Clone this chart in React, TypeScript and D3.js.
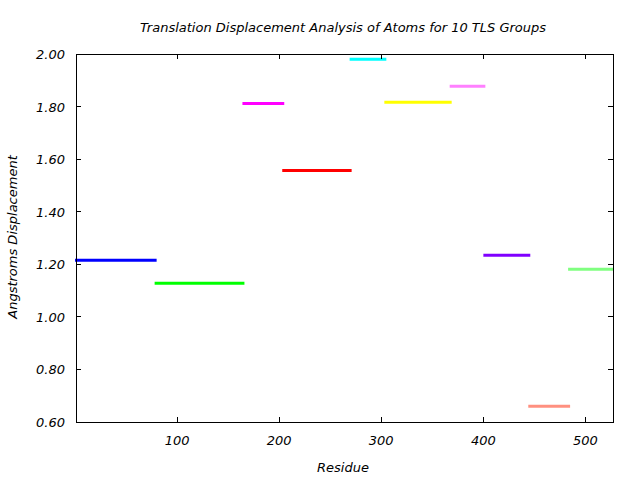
import React from "react";
import * as d3 from "d3";

const groupStarts = [1, 79, 165, 204, 270, 304, 368, 401, 445, 484];
const groupEnds = [79, 165, 204, 270, 304, 368, 401, 445, 484, 527];
const displacements = [1.215, 1.128, 1.812, 1.557, 1.98, 1.816, 1.877, 1.234, 0.66, 1.181];
const groupColors = ["#0000ff", "#00ff00", "#ff00ff", "#ff0000", "#00ffff", "#ffff00", "#ff80ff", "#8000ff", "#ff9080", "#80ff80"];
const xTicks = [100, 200, 300, 400, 500];
const yTicks = [0.6, 0.8, 1.0, 1.2, 1.4, 1.6, 1.8, 2.0];

const W = 640, H = 480;
const L = 76, R = 613, T = 54, B = 422;
const FONT = "'DejaVu Sans', sans-serif";
const FS = 13;

export default function App() {
  const x = d3.scaleLinear().domain([1, 527]).range([L, R]);
  const y = d3.scaleLinear().domain([0.6, 2.0]).range([B, T]);
  return (
    <svg width={W} height={H} style={{ position: "absolute", left: 0, top: 0, background: "#fff" }}>
      <rect x={0} y={0} width={W} height={H} fill="#fff" />
      <text x={343} y={32} textAnchor="middle" fontFamily={FONT} fontStyle="italic" fontSize={FS} fill="#000">
        Translation Displacement Analysis of Atoms for 10 TLS Groups
      </text>
      {groupStarts.map((s, i) => (
        <line key={i} x1={x(s) - 1} x2={x(groupEnds[i]) + 1} y1={y(displacements[i])} y2={y(displacements[i])}
          stroke={groupColors[i]} strokeWidth={3} />
      ))}
      <rect x={L} y={T} width={R - L} height={B - T} fill="none" stroke="#000" strokeWidth={1} shapeRendering="crispEdges" />
      {xTicks.map((t) => (
        <g key={"x" + t}>
          <line x1={x(t)} x2={x(t)} y1={B} y2={B - 5} stroke="#000" shapeRendering="crispEdges" />
          <line x1={x(t)} x2={x(t)} y1={T} y2={T + 5} stroke="#000" shapeRendering="crispEdges" />
          <text x={x(t)} y={445} textAnchor="middle" fontFamily={FONT} fontStyle="italic" fontSize={FS} fill="#000">{t}</text>
        </g>
      ))}
      {yTicks.map((t) => (
        <g key={"y" + t}>
          <line x1={L} x2={L + 5} y1={y(t)} y2={y(t)} stroke="#000" shapeRendering="crispEdges" />
          <line x1={R} x2={R - 5} y1={y(t)} y2={y(t)} stroke="#000" shapeRendering="crispEdges" />
          <text x={65} y={y(t) + 5} textAnchor="end" fontFamily={FONT} fontStyle="italic" fontSize={FS} fill="#000">{t.toFixed(2)}</text>
        </g>
      ))}
      <text x={343} y={472} textAnchor="middle" fontFamily={FONT} fontStyle="italic" fontSize={FS} fill="#000">Residue</text>
      <text transform="translate(17,237) rotate(-90)" textAnchor="middle" fontFamily={FONT} fontStyle="italic" fontSize={FS} fill="#000">Angstroms Displacement</text>
    </svg>
  );
}
